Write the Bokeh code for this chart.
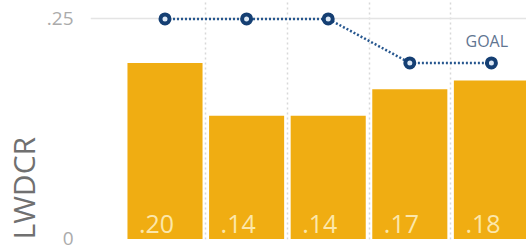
from bokeh.plotting import figure
from bokeh.models import Range1d, FixedTicker, Label, ColumnDataSource, Title
from bokeh.core.properties import value
from bokeh.embed import file_html
from bokeh.resources import INLINE

# ---- data ----
periods = ["P1", "P2", "P3", "P4", "P5"]
lwdcr = [0.20, 0.14, 0.14, 0.17, 0.18]
lwdcr_labels = [".20", ".14", ".14", ".17", ".18"]
goal = [0.25, 0.25, 0.25, 0.20, 0.20]
y_ticks = [0, 0.25]
y_tick_labels = ["0", ".25"]

idx = list(range(len(periods)))

# ---- style ----
BAR_COLOR = "#F0AD12"
BAR_TEXT = "#FCE7AA"
GOAL_LINE = "#27578F"
GOAL_EDGE = "#153F73"
GOAL_FILL = "#DCE8F5"
FONT = "Open Sans"

p = figure(width=526, height=246,
           x_range=Range1d(-0.913, 4.43), y_range=Range1d(-0.00057, 0.2709),
           output_backend="svg", toolbar_location=None,
           x_axis_location=None,
           min_border_left=90, min_border_right=0, min_border_top=0, min_border_bottom=7)
p.outline_line_color = None
p.background_fill_color = "white"
p.border_fill_color = "white"

# grids
p.xgrid.ticker = FixedTicker(ticks=[i + 0.5 for i in idx[:-1]])
p.xgrid.grid_line_color = "#d8d8d8"
p.xgrid.grid_line_dash = "2 3"
p.xgrid.grid_line_width = 1.5
p.ygrid.ticker = FixedTicker(ticks=[0.25])
p.ygrid.grid_line_color = "#e4e4e4"
p.ygrid.grid_line_width = 1.5

# y axis
p.yaxis.ticker = FixedTicker(ticks=y_ticks)
p.yaxis.major_label_overrides = {t: l for t, l in zip(y_ticks, y_tick_labels)}
p.yaxis.axis_line_color = None
p.yaxis.major_tick_line_color = None
p.yaxis.minor_tick_line_color = None
p.yaxis.major_tick_out = 0
p.yaxis.major_tick_in = 0
p.yaxis.minor_tick_out = 0
p.yaxis.major_label_text_color = "#ababab"
p.yaxis.major_label_text_font = FONT
p.yaxis.major_label_text_font_size = "19px"
p.yaxis.major_label_standoff = 17

# y axis title, placed at the bottom like the reference
p.add_layout(Title(text="LWDCR", align="left", text_font=FONT,
                   text_font_size="30px", text_color="#707070",
                   text_font_style="normal", standoff=0), "left")

src = ColumnDataSource(dict(x=idx, v=lwdcr, lab=lwdcr_labels, g=goal,
                            ly=[0.0175] * len(idx)))

p.vbar(x="x", top="v", bottom=0, width=0.92, source=src,
       fill_color=BAR_COLOR, line_color=None)
p.text(x="x", y="ly", text="lab", source=src, x_offset=-26,
       text_align="left", text_baseline="alphabetic",
       text_font=value(FONT), text_font_size="25px", text_color=BAR_TEXT)

p.line(x="x", y="g", source=src, line_color=GOAL_LINE, line_width=2.5, line_dash="2 2")
p.scatter(x="x", y="g", source=src, size=9, marker="circle",
          fill_color=GOAL_FILL, line_color=GOAL_EDGE, line_width=4)

p.add_layout(Label(x=3.683, y=0.2245, text="GOAL", text_font=FONT,
                   text_font_size="16px", text_color="#5f7591",
                   text_align="left", text_baseline="alphabetic"))

open("out.html", "w").write(file_html(p, INLINE))
